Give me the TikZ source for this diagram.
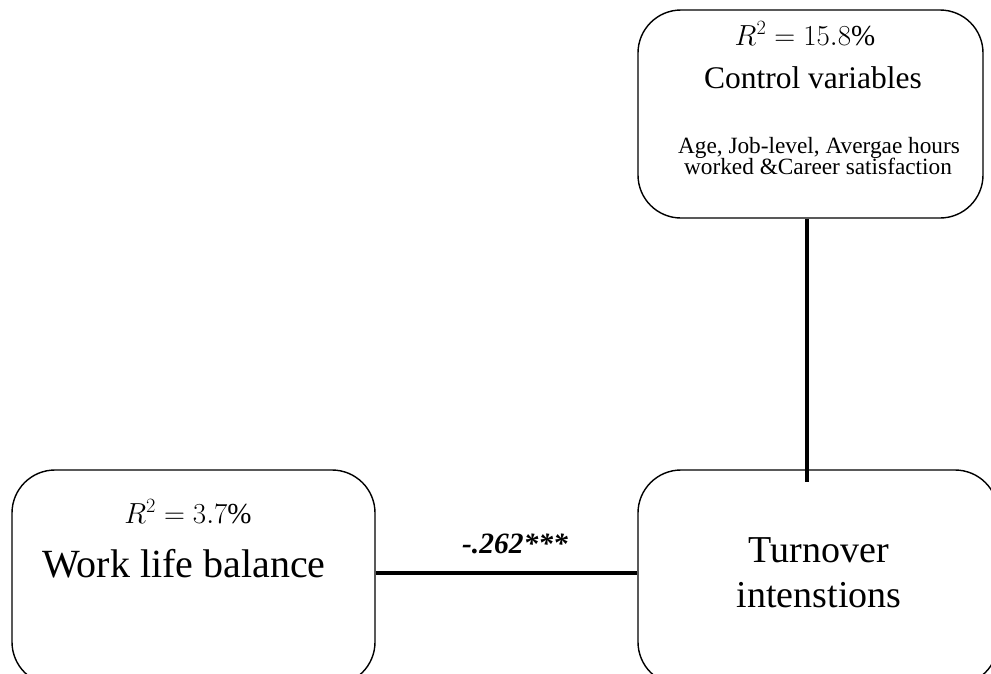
\documentclass[tikz,border=0pt]{standalone}
\usepackage{fix-cm}
\usepackage{fontspec}
\setmainfont{Liberation Serif}
\begin{document}
\begin{tikzpicture}[x=1pt,y=-1pt,
  box/.style={draw, line width=1.4pt, rounded corners=43pt, inner sep=0pt},
  link/.style={line width=4pt},
  lbl/.style={anchor=base, inner sep=0pt, text=black},
  rsq/.style={lbl, font=\fontsize{29}{32}\selectfont}]
\useasboundingbox (0,0) rectangle (991,673);
\clip (0,0) rectangle (991,673);

% boxes
\node[box, minimum width=345pt, minimum height=208pt] (ctrl) at (810.5,114) {};
\node[box, minimum width=363pt, minimum height=215pt] (wlb) at (193.5,577.5) {};
\node[box, minimum width=360pt, minimum height=215pt] (turn) at (818,577.5) {};

% connectors
\coordinate (hl) at (0,573);
\coordinate (vend) at (807,482);
\draw[link] (wlb.east |- hl) -- (turn.west |- hl);
\draw[link] (ctrl.south -| vend) -- (vend);

% texts
\node[rsq] (r2c) at (805,45) {$R^2 = 15.8\%$};
\node[lbl, font=\fontsize{31.5}{34}\selectfont] (cv) at (813,88) {Control variables};
\node[lbl, font=\fontsize{23.3}{21}\selectfont] (cva) at (819,153) {Age, Job-level, Avergae hours};
\node[lbl, font=\fontsize{23.3}{21}\selectfont] (cvb) at (818,174) {worked \&Career satisfaction};

\node[rsq] (r2w) at (188,523) {$R^2 = 3.7\%$};
\node[lbl, font=\fontsize{40}{44}\selectfont] (wl) at (184,577) {Work life balance};

\node[lbl, font=\fontsize{38}{44}\selectfont] (t1) at (819,562) {Turnover};
\node[lbl, font=\fontsize{38}{44}\selectfont] (t2) at (819,607) {intenstions};

\node[lbl, font=\fontsize{29.5}{32}\selectfont\bfseries\itshape] (coef) at (515,553) {-.262***};
\end{tikzpicture}
\end{document}
